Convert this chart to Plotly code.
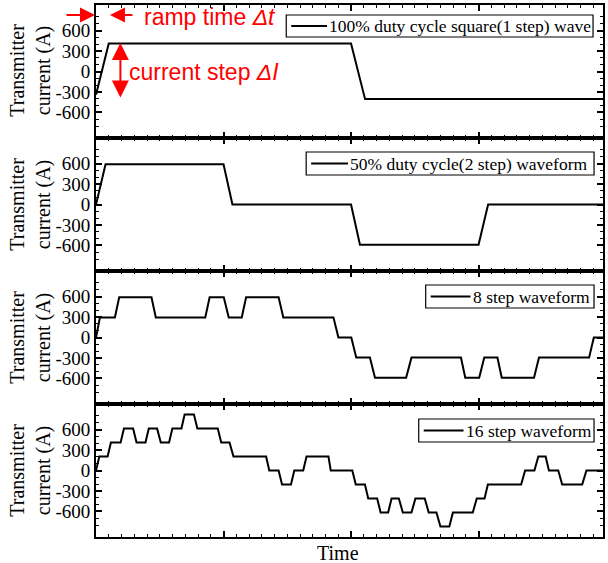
import plotly.graph_objects as go
from plotly.subplots import make_subplots

# ---------------- data (time in arbitrary units, current in A) ----------------
t_1step = [0.0, 0.10, 2.0, 2.11, 3.98]
i_1step = [-340, 410, 410, -405, -405]

t_2step = [0.0, 0.075, 1.0, 1.07, 2.0, 2.07, 3.0, 3.075, 3.98]
i_2step = [0, 590, 590, 0, 0, -590, -590, 0, 0]

t_8step = [0.0, 0.031, 0.148, 0.182, 0.435, 0.469, 0.857, 0.891, 1.002, 1.041,
           1.143, 1.177, 1.432, 1.469, 1.862, 1.901, 2.002, 2.041, 2.148, 2.188,
           2.432, 2.474, 2.862, 2.896, 3.005, 3.045, 3.148, 3.182, 3.435, 3.474,
           3.867, 3.904, 3.98]
i_8step = [0, 295, 295, 590, 590, 295, 295, 590, 590, 295,
           295, 590, 590, 295, 295, 0, 0, -295, -295, -590,
           -590, -295, -295, -590, -590, -295, -295, -590, -590, -295,
           -295, 0, 0]

t_16step = [0.0, 0.026, 0.091, 0.117, 0.193, 0.219, 0.291, 0.318, 0.388, 0.414,
            0.479, 0.508, 0.573, 0.599, 0.670, 0.695, 0.768, 0.795, 0.955, 0.982,
            1.047, 1.078, 1.334, 1.359, 1.432, 1.459, 1.529, 1.555, 1.625, 1.651,
            1.823, 1.841, 2.010, 2.037, 2.109, 2.135, 2.205, 2.232, 2.291, 2.318,
            2.375, 2.406, 2.474, 2.505, 2.578, 2.609, 2.670, 2.701, 2.771, 2.799,
            2.955, 2.986, 3.047, 3.073, 3.334, 3.365, 3.438, 3.469, 3.526, 3.552,
            3.625, 3.656, 3.813, 3.846, 3.98]
i_16step = [0, 205, 205, 410, 410, 615, 615, 410, 410, 615,
            615, 410, 410, 615, 615, 820, 820, 615, 615, 410,
            410, 205, 205, 0, 0, -205, -205, 0, 0, 205,
            205, 0, 0, -205, -205, -410, -410, -615, -615, -410,
            -410, -615, -615, -410, -410, -615, -615, -820, -820, -615,
            -615, -410, -410, -205, -205, 0, 0, 205, 205, 0,
            0, -205, -205, 0, 0]

series_names = ["100% duty cycle square(1 step) wave",
                "50% duty cycle(2 step) waveform",
                "8 step waveform",
                "16 step waveform"]
series_t = [t_1step, t_2step, t_8step, t_16step]
series_i = [i_1step, i_2step, i_8step, i_16step]

y_tick_vals = [-600, -300, 0, 300, 600]
y_tick_text = ["-600", "-300", "0", "300", "600"]
x_title = "Time"
y_title = "Transmitter<br>current (A)"

# ---------------- layout geometry (pixels) ----------------
W, H = 608, 563
ML, MR, MT, MB = 96, 3, 5, 26
PW, PH = W - ML - MR, H - MT - MB


def px_x(px):
    return (px - ML) / PW


def px_y(py):
    return (H - MB - py) / PH


SERIF = "Liberation Serif"

fig = make_subplots(rows=4, cols=1, shared_xaxes=True, vertical_spacing=0)

for k in range(4):
    fig.add_trace(go.Scatter(x=series_t[k], y=series_i[k], mode="lines",
                             line=dict(color="black", width=2),
                             name=series_names[k], showlegend=False),
                  row=k + 1, col=1)

minor_y = [v for v in range(-900, 901, 100) if v % 300 != 0]
for k in range(4):
    fig.update_xaxes(range=[0, 3.976], showline=True, linecolor="black", linewidth=1.8,
                     mirror="ticks", ticks="inside", ticklen=6, tickwidth=1.5,
                     tick0=0, dtick=1, showticklabels=False, showgrid=False,
                     zeroline=False,
                     minor=dict(ticks="inside", ticklen=3.5, tickwidth=1,
                                tick0=0, dtick=0.1, tickcolor="black", showgrid=False),
                     tickcolor="black", row=k + 1, col=1)
    fig.update_yaxes(range=[-975, 975], showline=True, linecolor="black", linewidth=1.8,
                     mirror="ticks", ticks="inside", ticklen=6, tickwidth=1.5,
                     tickmode="array", tickvals=y_tick_vals, ticktext=y_tick_text,
                     tickfont=dict(family=SERIF, size=19, color="black"),
                     showgrid=False, zeroline=False, tickcolor="black",
                     minor=dict(ticks="inside", ticklen=3.5, tickwidth=1,
                                tickmode="array", tickvals=minor_y,
                                tickcolor="black", showgrid=False),
                     row=k + 1, col=1)

annotations = []
shapes = []

# ---- hand-drawn legend boxes (box left, box right, box top, box bottom, line end) ----
legend_boxes = [(287, 595, 15, 37, 328),
                (307, 596, 152, 175, 349),
                (427, 596, 285, 308, 472),
                (420, 596, 419, 442, 465)]
for name, (bl, br, bt, bb, le) in zip(series_names, legend_boxes):
    shapes.append(dict(type="rect", xref="paper", yref="paper",
                       x0=px_x(bl), x1=px_x(br), y0=px_y(bb), y1=px_y(bt),
                       line=dict(color="black", width=1.2), fillcolor="white",
                       layer="above"))
    yc = (bt + bb) / 2
    shapes.append(dict(type="line", xref="paper", yref="paper",
                       x0=px_x(bl + 5), x1=px_x(le), y0=px_y(yc), y1=px_y(yc),
                       line=dict(color="black", width=2), layer="above"))
    annotations.append(dict(text=name, xref="paper", yref="paper",
                            x=px_x(le + 1), y=px_y(yc + 0.5), xanchor="left",
                            yanchor="middle", showarrow=False, borderpad=0,
                            font=dict(family=SERIF, size=17.5, color="black")))

panel_centers = [70.5, 204.5, 337.5, 470.5]
for c in panel_centers:
    annotations.append(dict(text=y_title, xref="paper", yref="paper",
                            x=px_x(30), y=px_y(c), xanchor="center", yanchor="middle",
                            textangle=-90, showarrow=False,
                            font=dict(family=SERIF, size=20, color="black")))
annotations.append(dict(text=x_title, xref="paper", yref="paper",
                        x=px_x(339), y=px_y(553), xanchor="center", yanchor="middle",
                        showarrow=False, font=dict(family=SERIF, size=20, color="black")))

RED = "#ff0000"
SANS = "Liberation Sans"
annotations.append(dict(text="ramp time <i>\u0394t</i>", xref="paper", yref="paper",
                        x=px_x(142), y=px_y(17), xanchor="left", yanchor="middle",
                        showarrow=False, font=dict(family=SANS, size=23, color=RED)))
annotations.append(dict(text="current step <i>\u0394I</i>", xref="paper", yref="paper",
                        x=px_x(127), y=px_y(72), xanchor="left", yanchor="middle",
                        showarrow=False, font=dict(family=SANS, size=23, color=RED)))
# arrows
annotations.append(dict(text="", xref="paper", yref="paper", x=px_x(95), y=px_y(15),
                        ax=-30, ay=0, showarrow=True, arrowhead=2, arrowsize=1.5,
                        arrowwidth=2, arrowcolor=RED))
annotations.append(dict(text="", xref="paper", yref="paper", x=px_x(110), y=px_y(15),
                        ax=24, ay=0, showarrow=True, arrowhead=2, arrowsize=1.5,
                        arrowwidth=2, arrowcolor=RED))
annotations.append(dict(text="", xref="paper", yref="paper", x=px_x(120.5), y=px_y(43),
                        ax=0, ay=56, axref="pixel", ayref="pixel", showarrow=True,
                        arrowhead=2, arrowsize=1.7, arrowwidth=2, arrowcolor=RED,
                        arrowside="end+start", startarrowhead=2, startarrowsize=1.7))

fig.update_layout(width=W, height=H, margin=dict(l=ML, r=MR, t=MT, b=MB),
                  paper_bgcolor="white", plot_bgcolor="white",
                  annotations=annotations, shapes=shapes, showlegend=False)

fig.write_html("out.html")
